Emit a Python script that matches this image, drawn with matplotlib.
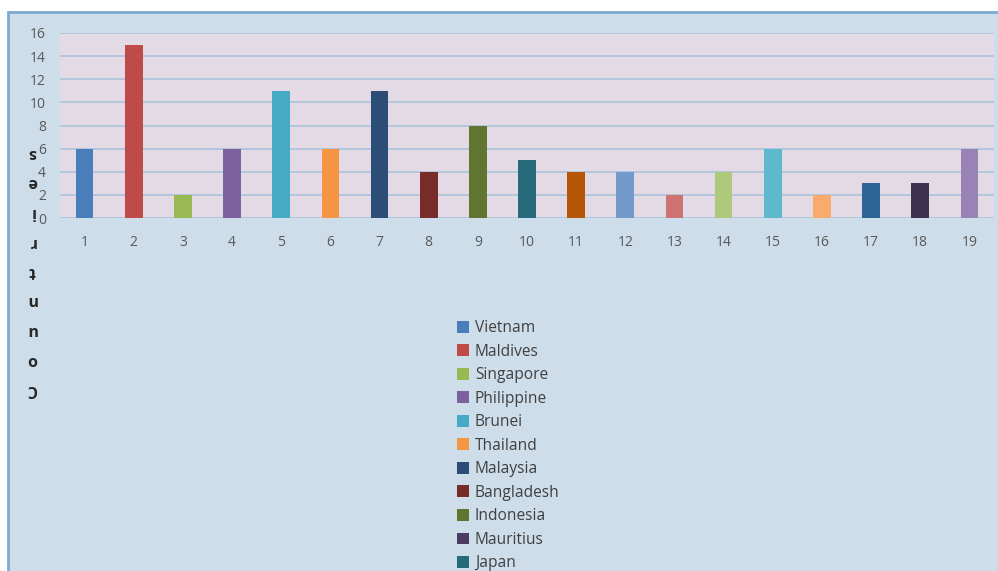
import matplotlib
matplotlib.use("Agg")
import matplotlib.pyplot as plt
from matplotlib.patches import Patch, Rectangle

plt.rcParams['font.family'] = ['Open Sans', 'DejaVu Sans']

# Bar data: count per position
positions = list(range(1, 20))
counts = [6, 15, 2, 6, 11, 6, 11, 4, 8, 5, 4, 4, 2, 4, 6, 2, 3, 3, 6]
bar_colors = ['#4a7ebb', '#be4b48', '#98b954', '#7d60a0', '#46aac5', '#f69544',
              '#2c4d75', '#772c2a', '#5f7530', '#276a7c', '#b65708', '#729aca',
              '#cd7371', '#afc97a', '#5fb9cc', '#f9ab6b', '#2e6496', '#3f3151',
              '#9983b5']

# Legend entries
legend_names = ['Vietnam', 'Maldives', 'Singapore', 'Philippine', 'Brunei',
                'Thailand', 'Malaysia', 'Bangladesh', 'Indonesia', 'Mauritius',
                'Japan']
legend_colors = ['#4a7ebb', '#be4b48', '#98b954', '#7d60a0', '#46aac5',
                 '#f69544', '#2c4d75', '#772c2a', '#5f7530', '#4d3b62',
                 '#276a7c']

y_ticks = list(range(0, 17, 2))
axis_title = 'Countries'

W, H = 998, 571
fig = plt.figure(figsize=(W / 100, H / 100), dpi=100, facecolor='white')

# Chart frame
frame = Rectangle((8 / W, -0.05), 1.0, (H - 12) / H + 0.05,
                  transform=fig.transFigure, facecolor='#cddde9',
                  edgecolor='#7fa9d3', linewidth=2, zorder=-1)
fig.patches.append(frame)

ax = fig.add_axes([60 / W, (H - 218) / H, (994 - 60) / W, (218 - 33) / H])
ax.set_zorder(1)
ax.set_facecolor('#e4dae6')
ax.bar(positions, counts, width=0.36, color=bar_colors, zorder=3)
ax.set_xlim(0.5, 19.5)
ax.set_ylim(0, 16)
ax.set_yticks(y_ticks)
ax.set_xticks(positions)
ax.grid(axis='y', color='#a9c3db', linewidth=1.2, zorder=1)
for s in ax.spines.values():
    s.set_visible(False)
ax.tick_params(axis='both', length=0, colors='#595959', labelsize=10)
ax.tick_params(axis='x', pad=12)
ax.tick_params(axis='y', pad=10)

# Vertical axis title, letters stacked with C at the bottom
letters = list(axis_title)
top_y, bot_y = 153, 389
n = len(letters)
for i, ch in enumerate(letters):
    y = bot_y - i * (bot_y - top_y) / (n - 1)
    fig.text(32 / W, 1 - y / H, ch, rotation=180, ha='center', va='center',
             fontsize=11.5, fontweight='bold', color='#262626', zorder=5)

handles = [Patch(facecolor=c, edgecolor='none') for c in legend_colors]
leg = fig.legend(handles, legend_names, loc='upper left',
                 bbox_to_anchor=(457 / W, 1 - 320 / H), frameon=False,
                 fontsize=11.2, labelcolor='#404040', handlelength=0.8,
                 handleheight=0.8, handletextpad=0.35, labelspacing=0.485,
                 borderaxespad=0, borderpad=0)
leg.set_zorder(5)

fig.savefig('out.png', dpi=100, facecolor='white')
